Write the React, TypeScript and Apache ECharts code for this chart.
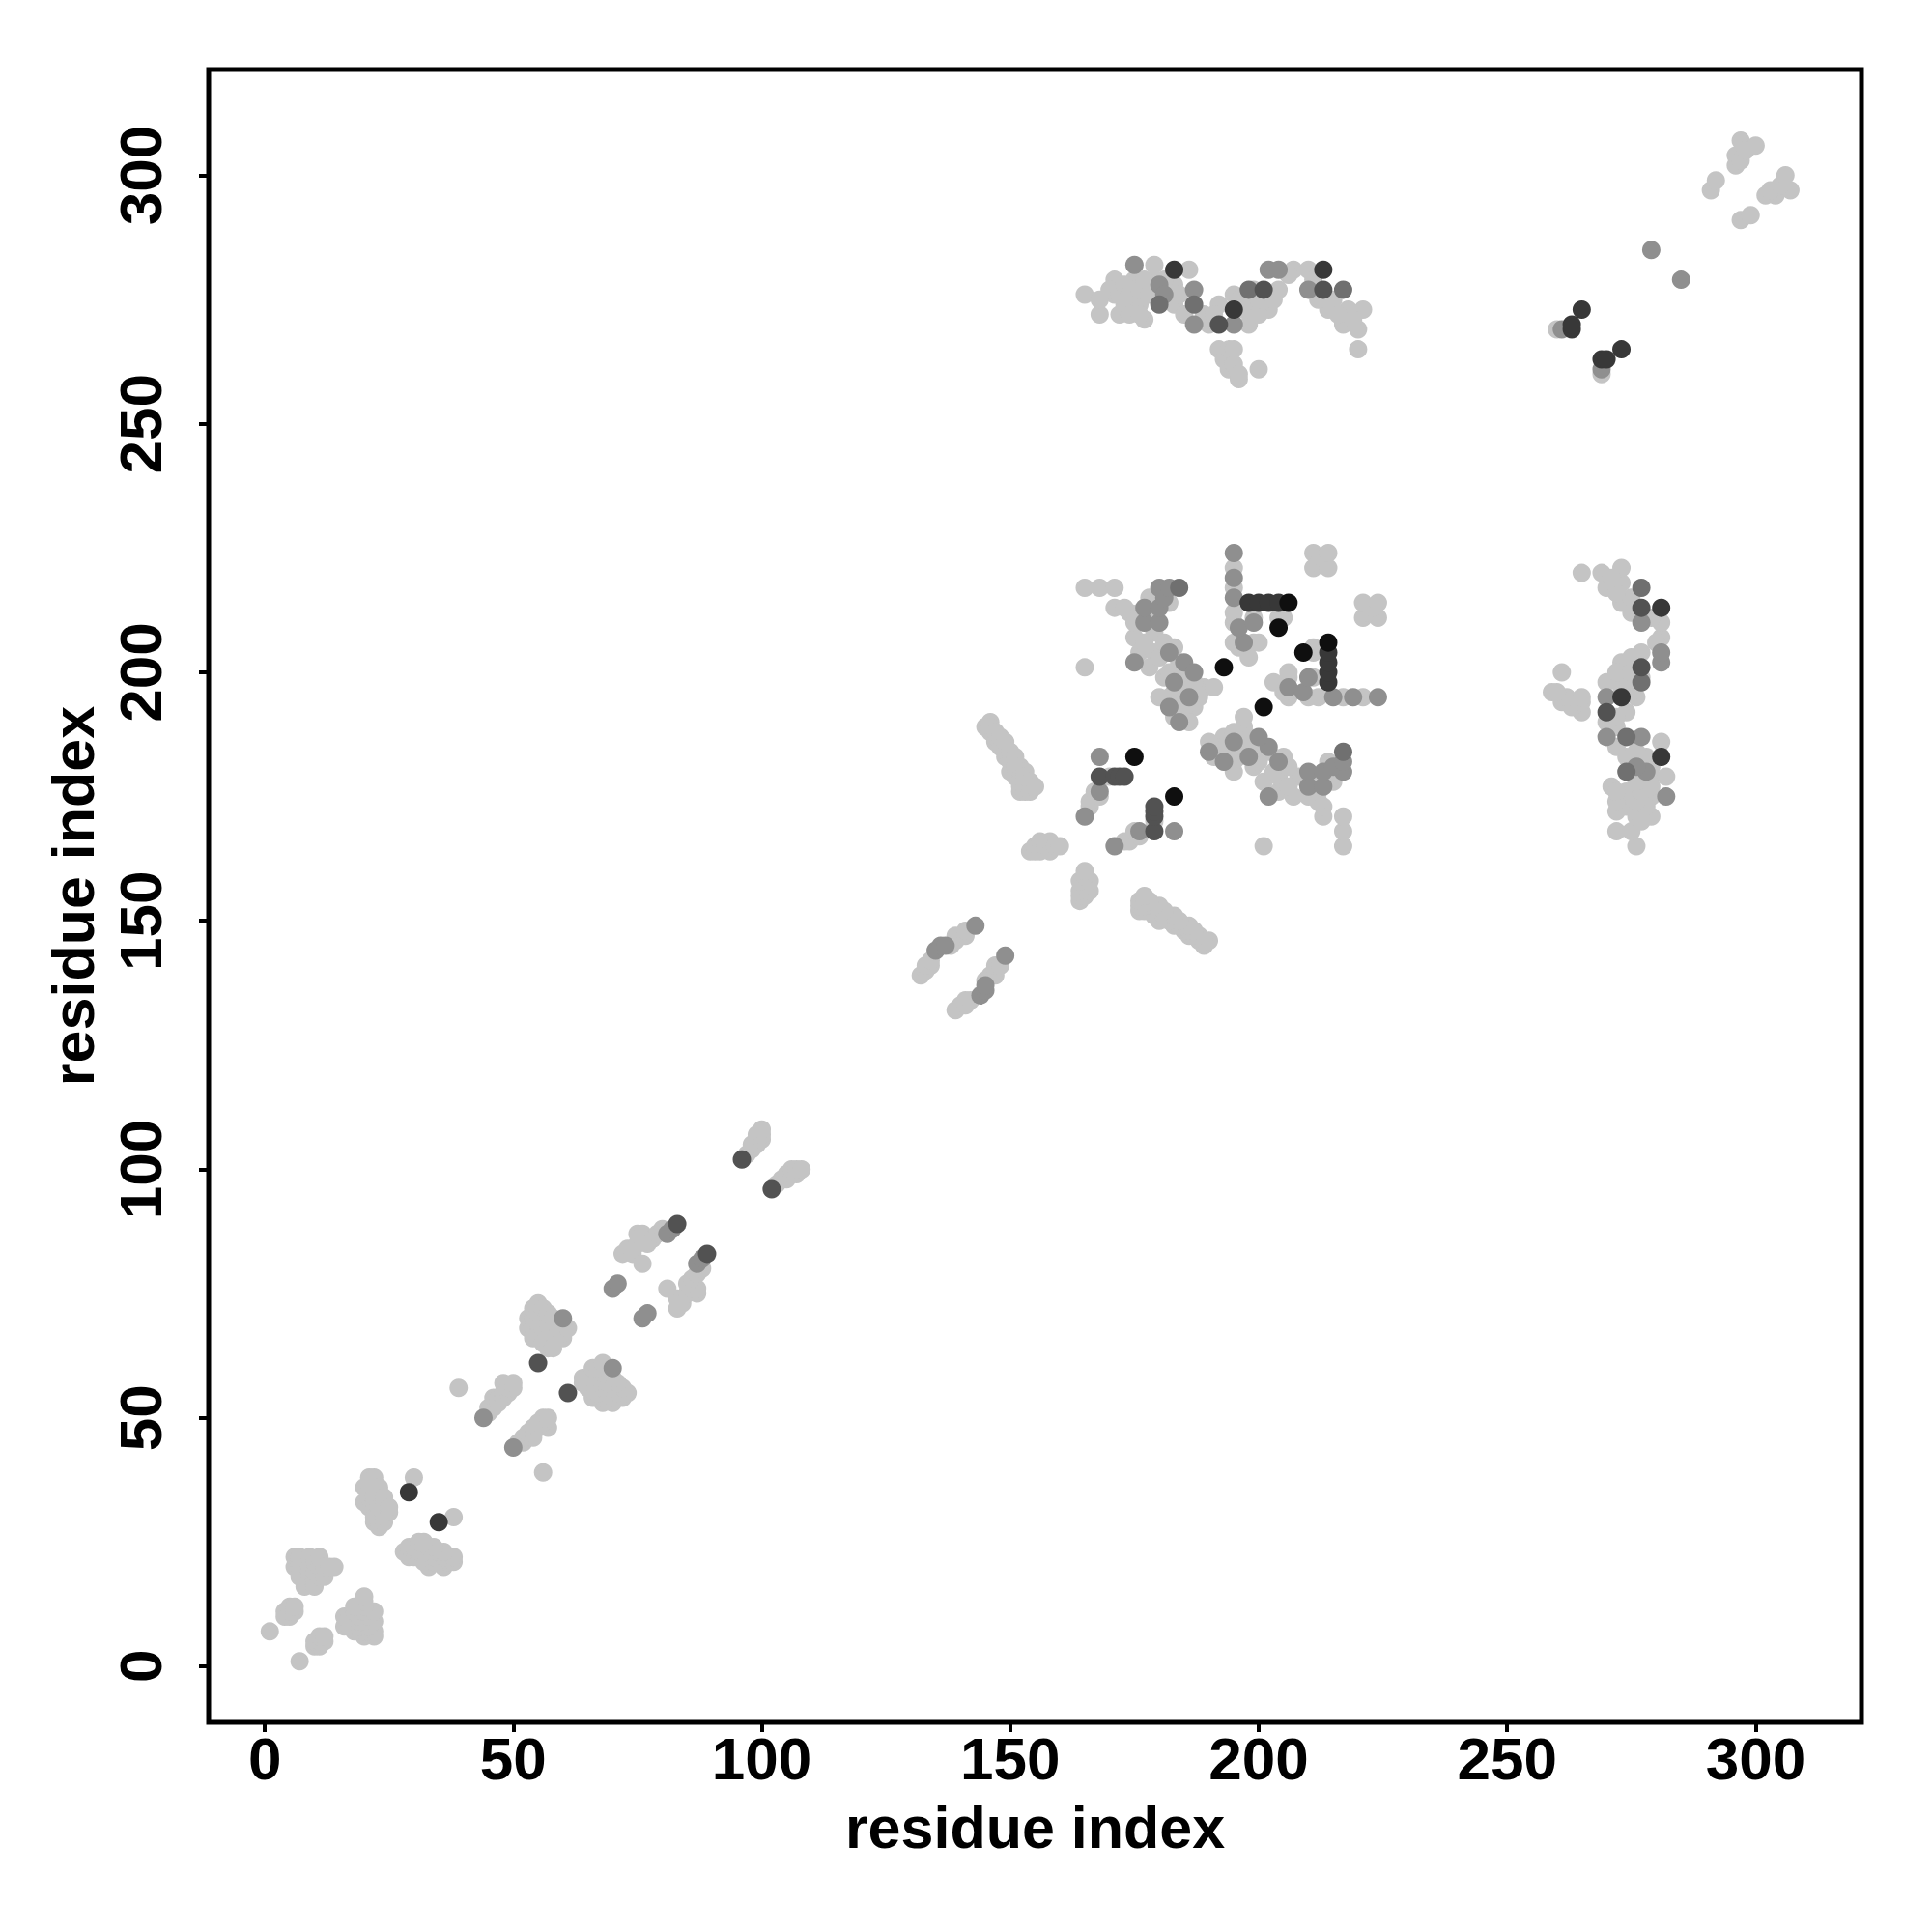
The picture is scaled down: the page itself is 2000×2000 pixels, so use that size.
import React, { useEffect, useRef } from "react";
import * as echarts from "echarts";

// Axis tick values (both axes)
const TICKS = [0, 50, 100, 150, 200, 250, 300];
const AXIS_MIN = -11.3;
const AXIS_MAX = 321.3;
const AXIS_TITLE = "residue index";

// Gray levels of the contact marks (light -> black)
const GRAYS = ["#c4c4c4", "#8f8f8f", "#707070", "#525252", "#383838", "#0f0f0f"];

// Contacts (i < j); the map is symmetric, each pair is drawn at (i,j) and (j,i)
const contactsLevel0: number[][] = [
  [1, 7], [4, 10], [4, 11], [5, 10], [5, 11], [5, 12], [6, 11], [6, 12],
  [6, 20], [6, 22], [7, 18], [7, 20], [7, 21], [7, 22], [8, 16], [8, 17], [8, 19], [8, 21],
  [9, 18], [9, 19], [9, 20], [9, 22], [10, 16], [10, 17], [10, 19], [10, 21], [11, 18],
  [11, 20], [11, 22], [12, 18], [12, 20], [13, 20], [14, 20],
  [20, 33], [20, 36], [21, 32], [21, 34], [21, 35], [21, 37], [21, 38], [22, 29], [22, 30],
  [22, 33], [22, 34], [22, 36], [22, 38], [23, 28], [23, 31], [23, 32], [23, 35], [23, 36],
  [24, 29], [24, 30], [24, 33], [24, 34], [25, 31], [25, 32], [30, 38],
  [39, 56], [45, 51], [45, 52], [46, 52], [46, 53], [46, 54], [47, 53], [47, 54], [48, 54],
  [48, 55], [48, 57], [49, 55], [49, 56], [50, 56], [50, 57],
  [53, 68], [53, 70], [54, 66], [54, 68], [54, 70], [54, 72], [55, 67], [55, 69], [55, 71],
  [55, 73], [56, 65], [56, 68], [56, 70], [56, 72], [57, 64], [57, 66], [57, 69], [57, 71],
  [58, 64], [58, 67], [58, 70], [59, 68], [60, 66], [60, 67], [61, 68],
  [72, 83], [73, 84], [74, 83], [74, 84], [75, 85], [75, 87], [76, 81], [76, 86], [76, 87],
  [77, 85], [78, 86], [79, 87], [80, 88],
  [97, 103], [98, 104], [98, 105], [99, 105], [99, 106], [99, 107], [100, 106], [100, 107], [100, 108],
  [132, 139], [133, 140], [133, 141], [134, 141], [134, 142], [138, 145], [139, 146], [139, 147],
  [140, 147], [141, 147], [141, 148],
  [145, 189], [146, 188], [146, 190], [147, 186], [147, 187], [148, 185], [148, 186], [149, 183],
  [149, 184], [150, 180], [150, 182], [151, 179], [151, 181], [152, 176], [152, 177], [152, 178],
  [153, 176], [153, 177], [154, 176], [154, 177],
  [146, 189], [147, 188], [148, 187], [149, 186], [150, 184], [151, 183], [152, 181], [153, 180],
  [153, 179], [154, 178], [155, 177],
  [154, 164], [155, 164], [155, 165], [156, 164], [156, 166], [157, 165], [158, 164], [158, 166],
  [159, 165], [160, 165],
  [165, 201], [165, 217], [166, 173], [166, 174], [167, 176], [168, 175], [168, 217], [170, 179],
  [171, 213], [171, 217], [173, 213], [174, 212], [175, 207], [175, 210], [176, 204], [178, 215],
  [179, 204], [180, 195], [181, 199], [182, 214], [184, 195], [184, 202], [185, 192], [186, 198],
  [187, 193], [189, 197], [191, 197],
  [176, 212], [178, 211], [179, 208], [177, 206], [178, 201], [180, 203], [181, 206], [183, 205],
  [182, 200], [184, 199], [185, 197], [183, 196], [182, 195], [186, 196], [187, 198], [188, 195],
  [185, 193], [183, 191], [186, 190],
  [195, 206], [196, 205], [199, 206], [199, 211], [200, 206], [198, 203], [205, 211], [204, 211],
  [195, 210], [195, 212], [195, 217], [195, 221],
  [211, 221], [211, 224], [212, 222], [213, 223], [214, 221], [214, 224],
  [165, 276], [168, 272], [168, 275], [171, 276], [171, 279], [172, 272], [173, 274], [175, 275],
  [175, 279], [176, 274], [177, 271], [179, 279], [179, 282], [183, 274], [183, 278], [186, 281],
  [190, 270], [192, 274], [195, 276], [198, 270], [199, 274], [199, 277], [202, 273], [204, 277],
  [207, 281], [210, 281], [214, 273], [217, 270], [218, 273], [220, 265], [220, 269], [221, 273],
  [170, 277], [172, 276], [173, 278], [174, 276], [176, 277], [177, 279], [178, 276], [174, 272],
  [176, 272], [181, 279], [184, 276], [185, 272], [189, 272], [191, 272], [196, 275], [197, 273],
  [200, 272], [200, 275], [203, 275], [206, 280], [211, 279], [212, 275], [215, 275], [216, 272],
  [219, 271],
  [192, 265], [193, 263], [194, 261], [194, 265], [195, 262], [195, 265], [196, 259], [196, 260],
  [200, 261],
  [260, 269], [291, 297], [292, 299], [296, 302], [296, 304], [297, 303], [297, 307], [298, 305],
  [300, 306],
];

const contactsLevel1: number[][] = [
  [44, 50], [60, 70], [70, 76], [71, 77], [81, 87], [82, 88],
  [135, 144], [136, 145], [137, 145], [143, 149],
  [165, 171], [168, 176], [168, 183],
  [177, 210], [177, 213], [180, 210], [180, 213], [180, 217], [181, 215], [182, 217],
  [175, 202], [182, 204], [185, 202], [187, 200], [183, 198], [186, 195], [182, 193], [184, 190],
  [197, 206], [196, 209], [199, 210],
  [195, 215], [195, 219], [195, 224],
  [175, 282], [180, 278], [181, 276], [187, 270], [187, 277], [195, 270], [202, 281], [204, 281],
  [210, 277],
  [261, 269], [279, 285],
];

const contactsLevel2: number[][] = [
  [184, 217], [180, 274], [187, 274], [198, 277], [217, 277],
];

const contactsLevel3: number[][] = [
  [55, 61], [83, 89], [96, 102], [168, 179], [171, 179], [172, 179], [173, 179],
  [192, 270], [201, 277], [213, 277],
];

const contactsLevel4: number[][] = [
  [29, 35], [198, 214], [200, 214], [202, 214], [204, 214], [183, 281], [195, 273], [213, 281],
  [263, 269], [263, 270], [265, 273],
];

const contactsLevel5: number[][] = [
  [175, 183], [193, 201], [206, 214], [204, 209],
];

const LEVELS = [contactsLevel0, contactsLevel1, contactsLevel2, contactsLevel3, contactsLevel4, contactsLevel5];

const FONT = "'Liberation Sans', Arial, Helvetica, sans-serif";

function symmetric(pairs: number[][]): number[][] {
  const out: number[][] = [];
  for (const [i, j] of pairs) {
    out.push([i, j]);
    out.push([j, i]);
  }
  return out;
}

function axisCommon() {
  return {
    type: "value" as const,
    min: AXIS_MIN,
    max: AXIS_MAX,
    axisLine: { show: false, onZero: false },
    splitLine: { show: false },
    axisTick: {
      show: true,
      inside: false,
      length: 10,
      customValues: TICKS,
      lineStyle: { color: "#000", width: 4 },
    },
    name: AXIS_TITLE,
    nameLocation: "middle" as const,
    nameTextStyle: { fontSize: 61, fontWeight: "bold", fontFamily: FONT, color: "#000" },
  };
}

export default function App() {
  const ref = useRef<HTMLDivElement>(null);
  useEffect(() => {
    document.body.style.margin = "0";
    if (!ref.current) return;
    const chart = echarts.init(ref.current, null, { renderer: "svg" });
    const series = LEVELS.map((pairs, k) => ({
      type: "scatter" as const,
      data: symmetric(pairs),
      symbol: "circle",
      symbolSize: 19,
      itemStyle: { color: GRAYS[k], opacity: 1 },
      z: 2 + k,
      emphasis: { disabled: true },
    }));
    chart.setOption({
      animation: false,
      backgroundColor: "#ffffff",
      grid: {
        left: 216,
        top: 72,
        width: 1711,
        height: 1711,
        show: true,
        borderColor: "#000",
        borderWidth: 5,
        backgroundColor: "transparent",
      },
      xAxis: {
        ...axisCommon(),
        position: "bottom",
        nameGap: 78,
        axisLabel: {
          customValues: TICKS,
          fontSize: 62,
          fontWeight: "bold",
          fontFamily: FONT,
          color: "#000",
          margin: 6,
        },
      },
      yAxis: {
        ...axisCommon(),
        position: "left",
        nameGap: 104,
        nameRotate: 90,
        axisLabel: {
          customValues: TICKS,
          rotate: 90,
          fontSize: 62,
          fontWeight: "bold",
          fontFamily: FONT,
          color: "#000",
          margin: 40,
        },
      },
      series,
    });
    return () => chart.dispose();
  }, []);
  return (
    <div
      ref={ref}
      style={{ position: "absolute", left: 0, top: 0, width: 2000, height: 2000, background: "#fff" }}
    />
  );
}
